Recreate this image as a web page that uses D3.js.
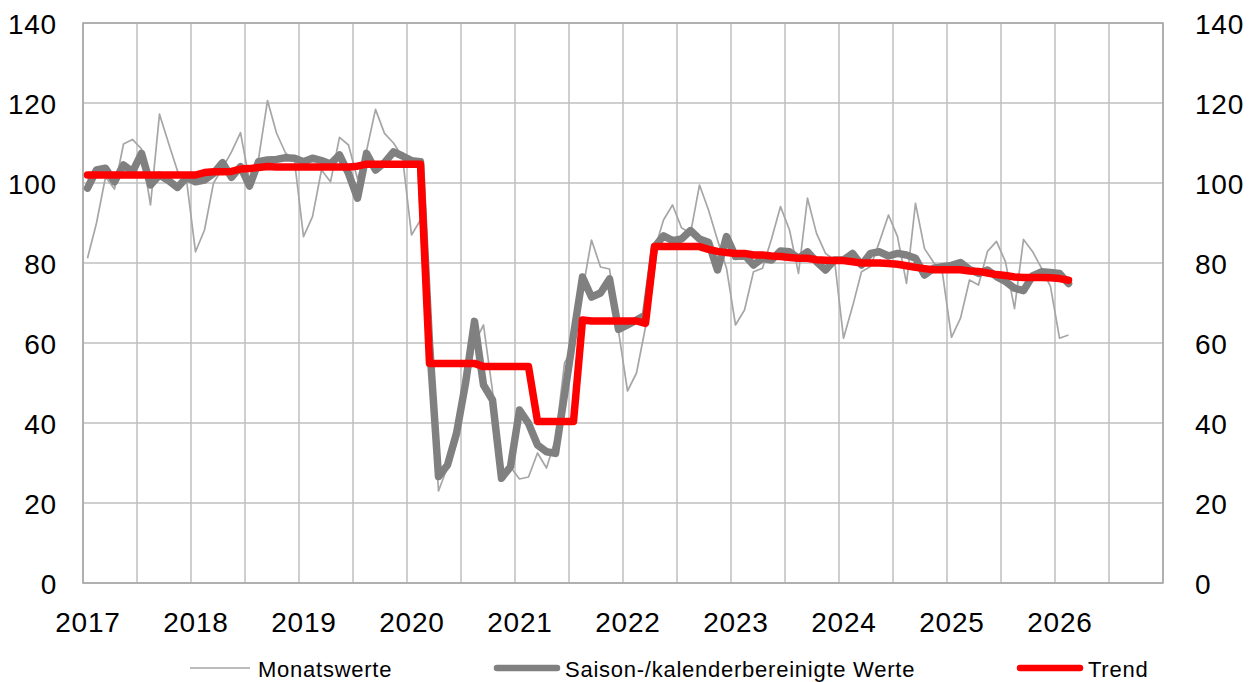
<!DOCTYPE html>
<html>
<head>
<meta charset="utf-8">
<script src="https://cdn.jsdelivr.net/npm/d3@7"></script>
<style>
  body { margin: 0; background: #fff; }
  svg { display: block; font-family: "Liberation Sans", Arial, sans-serif; }
</style>
</head>
<body>
<div id="chart"></div>
<script>
// monthly values, Jan 2017 .. Feb 2026
const yearLabels = ["2017", "2018", "2019", "2020", "2021", "2022", "2023", "2024", "2025", "2026"];
const yTicks = [0, 20, 40, 60, 80, 100, 120, 140];

const monatswerte = [
  81.2, 90, 101.5, 98.5, 109.75, 110.9, 108.5, 94.5, 117.2, 110, 103, 100.75,
  82.8, 88.25, 100, 103.7, 107.8, 112.6, 100.5, 106, 120.6, 112.5, 107.5, 105.5,
  86.6, 91.6, 103.25, 100.3, 111.4, 109.5, 101, 108, 118.4, 112.4, 110, 106.5,
  87, 90.75, 60, 23, 29, 37, 47, 60, 64.5, 48, 27, 29,
  26, 26.5, 32.5, 28.75, 36, 55, 59, 73, 85.75, 79, 78.5, 63,
  48, 52.5, 64, 83.25, 90.75, 94.5, 88.8, 87.4, 99.5, 93.25, 85.75, 78.7,
  64.5, 68.25, 77.8, 78.7, 86, 94.1, 88.25, 77.4, 96.2, 87.4, 82.4, 80.75,
  61.2, 69.1, 77.8, 79.1, 85.35, 92, 86.6, 74.9, 94.9, 83.6, 80.2, 77.4,
  61.4, 66.2, 75.75, 74.5, 82.9, 85.4, 80.3, 68.6, 85.9, 82.9, 78.7, 74.1,
  61.2, 62
];

const bereinigt = [
  98.7, 103.25, 103.7, 100.3, 104.5, 102.8, 107.4, 99.5, 102, 100.6, 98.9, 101.4,
  100.3, 100.75, 102.4, 105.1, 101.4, 104.1, 99.25, 105.3, 105.75, 105.9, 106.3, 106.2,
  105.3, 106.2, 105.6, 104.75, 107, 102.4, 96.2, 107.4, 103.25, 105.1, 107.8, 106.75,
  105.6, 105.3, 60, 26.6, 29.5, 37.4, 49.9, 65.4, 49.5, 45.75, 26.2, 29.1,
  43.25, 39.9, 34.5, 32.8, 32.4, 47, 62, 76.5, 71.5, 72.5, 76, 63.4,
  64.5, 65.75, 67, 84, 86.8, 85.6, 86, 88.1, 86, 85.2, 78.25, 86.6,
  81.6, 82, 79.5, 81.2, 80.75, 83, 82.8, 81.2, 82.8, 80.3, 78.25, 80.75,
  80.75, 82.4, 79.5, 82.4, 82.8, 81.75, 82.4, 82, 81.2, 77, 78.7, 79.1,
  79.4, 80.1, 78.4, 77.4, 78.25, 76.6, 75.4, 73.7, 73.1, 76.75, 77.8, 77.6,
  77.4, 74.9
];

const trend = [
  102, 102, 102, 102, 102, 102, 102, 102, 102, 102, 102, 102,
  102, 102.6, 102.8, 102.8, 102.9, 103.5, 103.6, 103.9, 104.1, 104, 104, 104,
  104, 104, 104, 104, 104, 104, 104.2, 104.7, 104.7, 104.7, 104.7, 104.7,
  104.7, 104.7, 54.9, 54.9, 54.9, 54.9, 54.9, 54.9, 54.1, 54.1, 54.1, 54.1,
  54.1, 54.1, 40.4, 40.4, 40.4, 40.4, 40.4, 65.75, 65.5, 65.5, 65.5, 65.5,
  65.5, 65.5, 64.9, 84.1, 84.1, 84.1, 84.1, 84.1, 84.1, 83.4, 82.9, 82.6,
  82.4, 82.4, 82, 82, 81.75, 81.6, 81.4, 81.2, 81.2, 80.8, 80.7, 80.6,
  80.6, 80.3, 80, 80, 80, 79.9, 79.7, 79.3, 78.9, 78.6, 78.3, 78.3,
  78.3, 78.3, 78, 77.9, 77.5, 77.1, 76.9, 76.5, 76.4, 76.4, 76.4, 76.3,
  76.1, 75.7
];

const legendItems = [
  { name: "Monatswerte", color: "#a6a6a6", width: 1.5, x: 190 },
  { name: "Saison-/kalenderbereinigte Werte", color: "#808080", width: 6.5, x: 497 },
  { name: "Trend", color: "#ff0000", width: 6.5, x: 1020 },
];

const width = 1255;
const height = 682;
const margin = { top: 23, right: 92, bottom: 99, left: 83 };
const nMonths = yearLabels.length * 12;

const svg = d3.select("#chart").append("svg")
  .attr("width", width)
  .attr("height", height);

const x = d3.scaleLinear()
  .domain([0, nMonths])
  .range([margin.left, width - margin.right]);

const y = d3.scaleLinear()
  .domain([0, 140])
  .range([height - margin.bottom, margin.top]);

// grid
const grid = svg.append("g");
grid.selectAll(".vg")
  .data(d3.range(0, nMonths + 1, 6))
  .enter().append("line")
  .attr("x1", (d) => x(d)).attr("x2", (d) => x(d))
  .attr("y1", y(0)).attr("y2", y(140))
  .attr("stroke", "#bfbfbf").attr("stroke-width", 1.5);
grid.selectAll(".hg")
  .data(yTicks)
  .enter().append("line")
  .attr("x1", x(0)).attr("x2", x(nMonths))
  .attr("y1", (d) => y(d)).attr("y2", (d) => y(d))
  .attr("stroke", "#bfbfbf").attr("stroke-width", 1.5);

svg.append("rect")
  .attr("x", x(0)).attr("y", y(140))
  .attr("width", x(nMonths) - x(0)).attr("height", y(0) - y(140))
  .attr("fill", "none").attr("stroke", "#a6a6a6").attr("stroke-width", 1.5);

// axes
const yLeft = svg.append("g")
  .attr("transform", `translate(${x(0) - 26},0)`)
  .call(d3.axisLeft(y).tickValues(yTicks).tickSize(0).tickPadding(0));
const yRight = svg.append("g")
  .attr("transform", `translate(${x(nMonths) + 32},0)`)
  .call(d3.axisRight(y).tickValues(yTicks).tickSize(0).tickPadding(0));
const xAxis = svg.append("g")
  .attr("transform", `translate(0,${y(0)})`)
  .call(d3.axisBottom(x)
    .tickValues(yearLabels.map((d, i) => i * 12 + 0.5))
    .tickFormat((d, i) => yearLabels[i])
    .tickSize(0).tickPadding(0));

[yLeft, yRight, xAxis].forEach((g) => {
  g.select(".domain").remove();
  g.selectAll("text")
    .attr("font-family", '"Liberation Sans", Arial, sans-serif')
    .attr("font-size", 28)
    .attr("letter-spacing", "0.8px")
    .attr("fill", "#000");
});
yLeft.selectAll("text").attr("dy", "0.36em");
yRight.selectAll("text").attr("dy", "0.36em");
xAxis.selectAll("text").attr("dy", 0).attr("y", 49);

// lines
const line = d3.line()
  .x((d, i) => x(i + 0.5))
  .y((d) => y(d));

svg.append("path")
  .datum(monatswerte)
  .attr("fill", "none")
  .attr("stroke", "#a6a6a6")
  .attr("stroke-width", 1.7)
  .attr("stroke-linejoin", "round")
  .attr("d", line);

svg.append("path")
  .datum(bereinigt)
  .attr("fill", "none")
  .attr("stroke", "#808080")
  .attr("stroke-width", 7.5)
  .attr("stroke-linejoin", "round")
  .attr("stroke-linecap", "round")
  .attr("d", line);

svg.append("path")
  .datum(trend)
  .attr("fill", "none")
  .attr("stroke", "#ff0000")
  .attr("stroke-width", 7.5)
  .attr("stroke-linejoin", "round")
  .attr("stroke-linecap", "round")
  .attr("d", line);

// legend
const legend = svg.append("g");
legendItems.forEach((d) => {
  legend.append("line")
    .attr("x1", d.x).attr("x2", d.x + 60)
    .attr("y1", 668).attr("y2", 668)
    .attr("stroke", d.color)
    .attr("stroke-width", d.width)
    .attr("stroke-linecap", d.width > 2 ? "round" : "butt");
  legend.append("text")
    .attr("x", d.x + 68).attr("y", 677)
    .attr("font-size", 22)
    .attr("letter-spacing", "0.75px")
    .attr("fill", "#000")
    .text(d.name);
});
</script>
</body>
</html>
